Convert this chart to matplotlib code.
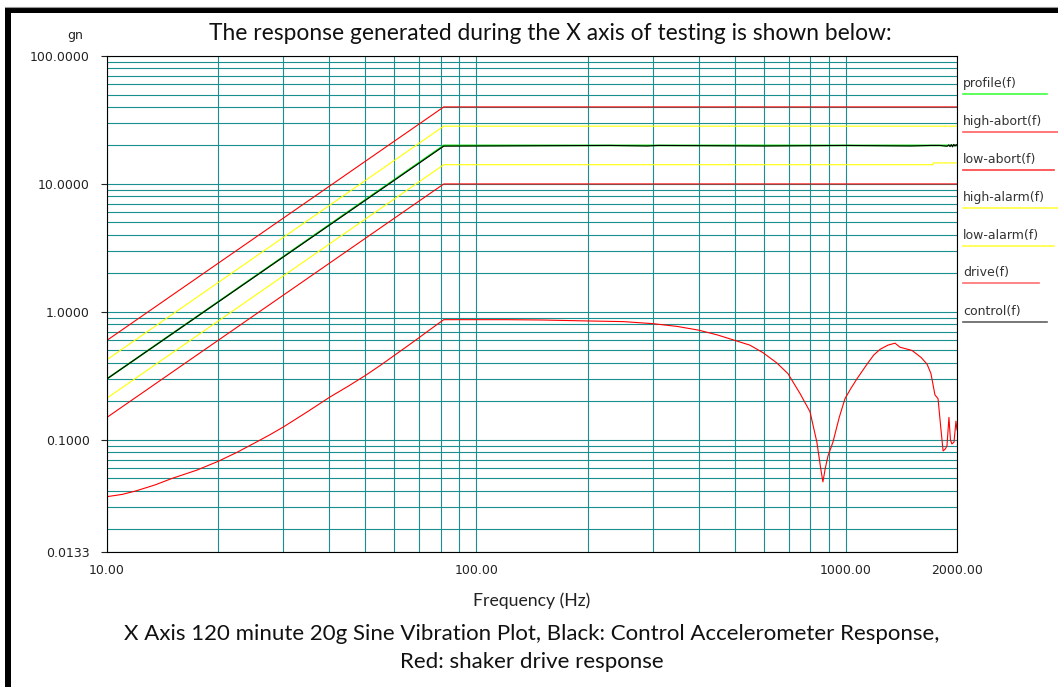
import matplotlib
matplotlib.use("Agg")
import matplotlib.pyplot as plt
from matplotlib.patches import Rectangle
from matplotlib.ticker import FixedLocator, NullFormatter

# ---------------- data ----------------
break_f = 81.6
profile_f = [10, break_f, 2000]
profile_g = [0.3, 20, 20]

high_abort_f = [10, break_f, 2000]
high_abort_g = [0.6, 40, 40]
low_abort_f = [10, break_f, 2000]
low_abort_g = [0.15, 10, 10]

high_alarm_f = [10, break_f, 2000]
high_alarm_g = [0.424, 28.3, 28.3]
low_alarm_f = [10, break_f, 1720, 1725, 2000]
low_alarm_g = [0.212, 14.14, 14.14, 14.6, 14.6]

control_f = [10, break_f, 100, 230, 290, 310, 600, 1000, 1500, 1700, 1800,
             1880, 1900, 1915, 1930, 1945, 1960, 1975, 1990, 2000]
control_g = [0.3, 19.75, 19.8, 20.0, 19.8, 20.0, 19.8, 20.0, 19.8, 20.0, 20.0,
             19.7, 20.2, 19.6, 20.3, 19.5, 20.4, 19.8, 20.3, 20.0]

drive_f = [10, 11, 12, 13.5, 15, 17.5, 20, 22.5, 25, 27.5, 30, 35, 40, 45, 50,
           55, 60, 65, 70, 75, break_f,
           100, 120, 150, 200, 250, 300, 350, 400, 450, 500, 550, 597, 650,
           697, 752, 800, 835, 855, 867, 880, 895, 923, 960, 995, 1030, 1072, 1141,
           1190, 1238, 1300, 1359, 1402, 1511, 1600, 1660, 1700, 1743, 1777, 1810,
           1834, 1860, 1879, 1902, 1920, 1937, 1963, 1987, 2000]
drive_g = [0.036, 0.0375, 0.040, 0.0445, 0.050, 0.058, 0.068, 0.080, 0.094, 0.109,
           0.126, 0.167, 0.215, 0.263, 0.318, 0.383, 0.458, 0.54, 0.63, 0.73, 0.87,
           0.87, 0.87, 0.865, 0.85, 0.84, 0.81, 0.77, 0.72, 0.66, 0.60, 0.55, 0.48,
           0.40, 0.33, 0.23, 0.166, 0.096, 0.06, 0.047, 0.06, 0.075, 0.096, 0.15,
           0.21, 0.25, 0.30, 0.39, 0.46, 0.51, 0.55, 0.57, 0.53, 0.50, 0.44, 0.39,
           0.33, 0.225, 0.21, 0.12, 0.082, 0.085, 0.09, 0.15, 0.10, 0.093, 0.096,
           0.14, 0.12]

y_ticks = [100, 10, 1, 0.1, 0.0133]
y_tick_labels = ["100.0000", "10.0000", "1.0000", "0.1000", "0.0133"]
x_ticks = [10, 100, 1000, 2000]
x_tick_labels = ["10.00", "100.00", "1000.00", "2000.00"]

legend_names = ["profile(f)", "high-abort(f)", "low-abort(f)", "high-alarm(f)",
                "low-alarm(f)", "drive(f)", "control(f)"]
legend_colors = ["#40ff40", "#ff6060", "#ff4040", "#ffff40", "#ffff40", "#ff7070", "#606060"]

title = "The response generated during the X axis of testing is shown below:"
caption1 = "X Axis 120 minute 20g Sine Vibration Plot, Black: Control Accelerometer Response,"
caption2 = "Red: shaker drive response"

# ---------------- figure ----------------
W, H = 1058, 687
fig = plt.figure(figsize=(W / 100, H / 100), dpi=100)
fig.patch.set_facecolor("white")

def fx(x):
    return x / W

def fy(y):
    return 1 - y / H

L, R, T, B = 107, 957, 56, 552
ax = fig.add_axes([fx(L), fy(B), (R - L) / W, (B - T) / H])
ax.set_xscale("log")
ax.set_yscale("log")
ax.set_xlim(10, 2000)
ax.set_ylim(0.0133, 100)

grid_c = "#1a8f8f"
minor_x = [m * d for d in (10, 100) for m in range(2, 10)]
minor_y = [m * d for d in (0.01, 0.1, 1, 10) for m in range(2, 10) if m * d > 0.0133]
ax.xaxis.set_major_locator(FixedLocator(x_ticks))
ax.xaxis.set_minor_locator(FixedLocator(minor_x))
ax.yaxis.set_major_locator(FixedLocator(y_ticks))
ax.yaxis.set_minor_locator(FixedLocator(minor_y))
ax.set_xticklabels(x_tick_labels)
ax.set_yticklabels(y_tick_labels)
ax.xaxis.set_minor_formatter(NullFormatter())
ax.yaxis.set_minor_formatter(NullFormatter())
ax.grid(True, which="both", color=grid_c, lw=0.8)
ax.set_axisbelow(True)
ax.tick_params(axis="x", which="both", length=0, pad=9, labelsize=9, colors="#222222")
ax.tick_params(axis="y", which="major", length=4.5, width=0.8, pad=8, labelsize=9,
               colors="#222222")
ax.tick_params(axis="y", which="minor", length=0)
for s in ax.spines.values():
    s.set_color("black")
    s.set_linewidth(0.8)

lw = 0.8
ax.plot(high_abort_f, high_abort_g, color="#ff0000", lw=lw)
ax.plot(low_abort_f, low_abort_g, color="#ff0000", lw=lw)
ax.plot(high_alarm_f, high_alarm_g, color="#ffff00", lw=lw)
ax.plot(low_alarm_f, low_alarm_g, color="#ffff00", lw=lw)
ax.plot(profile_f, profile_g, color="#00e000", lw=1.2)
ax.plot(control_f, control_g, color="black", lw=0.8)
ax.plot(drive_f, drive_g, color="#ff0000", lw=lw)

# axis labels / texts
fig.text(fx(75), fy(36), "gn", ha="center", va="center", fontsize=9, color="#222222")
fig.text(fx(532), fy(601), "Frequency (Hz)", ha="center", va="center", fontsize=12.7,
         family="Lato", color="#222222")
fig.text(fx(550), fy(33), title, ha="center", va="center", fontsize=16.4, family="Lato",
         color="#111111")
fig.text(fx(532), fy(634), caption1, ha="center", va="center", fontsize=16,
         family="Lato", color="#111111")
fig.text(fx(532), fy(662), caption2, ha="center", va="center", fontsize=16,
         family="Lato", color="#111111")

# legend on right
leg_text_y = [84, 122, 160, 198, 236, 273, 312]
leg_line_end = [1047, 1058, 1054, 1058, 1054, 1039, 1047]
for name, col, ty, xe in zip(legend_names, legend_colors, leg_text_y, leg_line_end):
    fig.text(fx(963), fy(ty), name, ha="left", va="center", fontsize=9, color="#333333")
    fig.add_artist(plt.Line2D([fx(963), fx(xe)], [fy(ty + 10), fy(ty + 10)],
                              transform=fig.transFigure, color=col, lw=1.2))

# border
fig.add_artist(Rectangle((fx(5), fy(13)), (W - 5) / W, 6 / H, transform=fig.transFigure,
                         facecolor="black", edgecolor="none"))
fig.add_artist(Rectangle((fx(5), fy(H)), 6 / W, (H - 7) / H, transform=fig.transFigure,
                         facecolor="black", edgecolor="none"))
fig.add_artist(plt.Line2D([fx(5), 1], [fy(7), fy(7)], transform=fig.transFigure,
                          color="#999999", lw=0.8))

fig.savefig("out.png", dpi=100)
